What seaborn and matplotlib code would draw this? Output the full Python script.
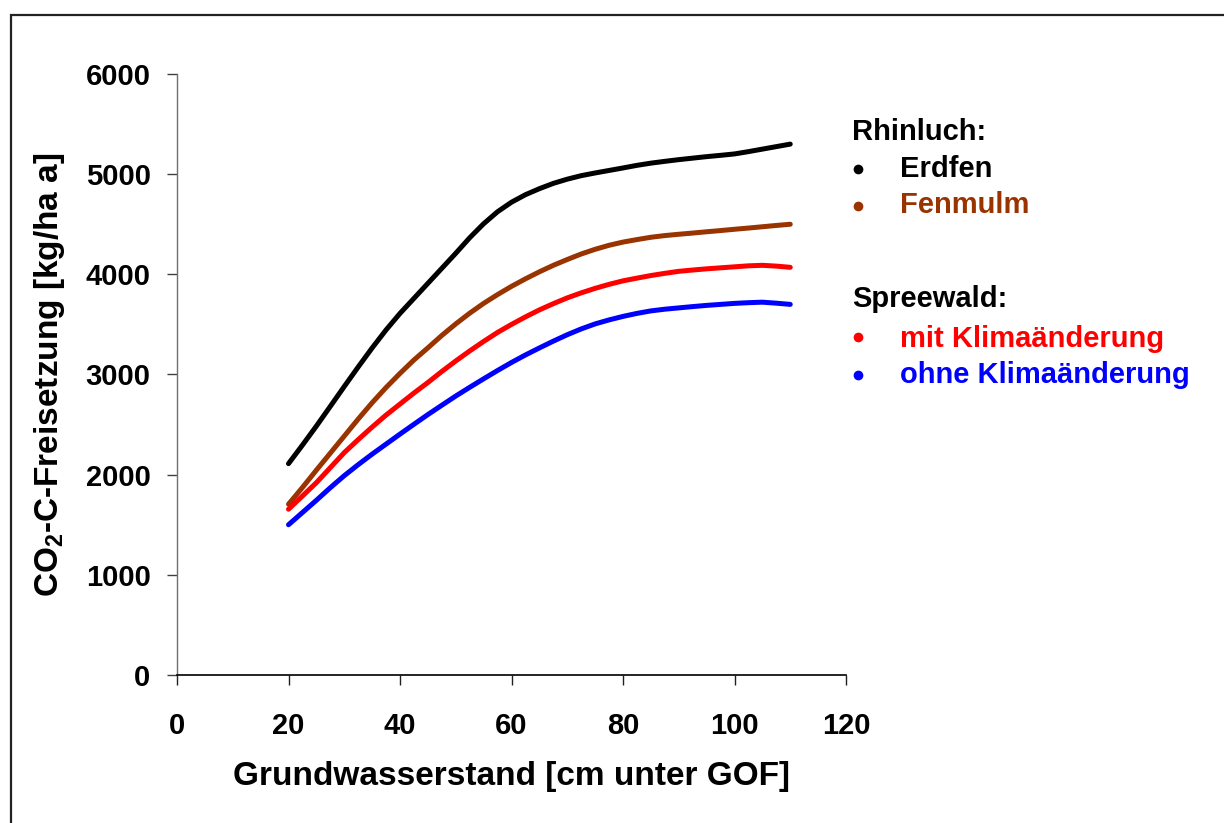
import numpy as np
import pandas as pd
import matplotlib
matplotlib.use("Agg")
import matplotlib.pyplot as plt
import matplotlib.patches as mpatches
from matplotlib.lines import Line2D
import seaborn as sns

# Grundwasserstand [cm unter GOF]
depth = [20, 22.5, 25, 27.5, 30, 32.5, 35, 37.5, 40, 42.5, 45, 47.5, 50, 52.5, 55, 57.5, 60,
         62.5, 65, 67.5, 70, 72.5, 75, 77.5, 80, 82.5, 85, 87.5, 90, 92.5, 95, 97.5, 100,
         102.5, 105, 107.5, 110]

# CO2-C-Freisetzung [kg/ha a]
erdfen = [2110, 2295, 2485, 2682, 2880, 3075, 3265, 3445, 3610, 3760, 3910, 4060, 4210, 4365,
          4505, 4625, 4720, 4795, 4855, 4908, 4950, 4985, 5012, 5037, 5062, 5088, 5110, 5128,
          5145, 5160, 5175, 5188, 5202, 5225, 5250, 5275, 5300]
fenmulm = [1705, 1872, 2045, 2215, 2385, 2555, 2718, 2870, 3011, 3145, 3266, 3390, 3505, 3612,
           3710, 3798, 3880, 3955, 4025, 4090, 4148, 4203, 4250, 4290, 4322, 4347, 4370, 4387,
           4400, 4412, 4425, 4437, 4450, 4462, 4475, 4488, 4500]
mit_klima = [1655, 1787, 1920, 2070, 2220, 2350, 2475, 2595, 2705, 2815, 2920, 3030, 3135, 3235,
             3330, 3420, 3500, 3575, 3645, 3707, 3765, 3815, 3860, 3900, 3935, 3962, 3988, 4010,
             4030, 4043, 4055, 4065, 4075, 4085, 4090, 4082, 4070]
ohne_klima = [1500, 1622, 1744, 1870, 1990, 2100, 2205, 2305, 2405, 2503, 2600, 2693, 2785, 2872,
              2957, 3040, 3120, 3195, 3265, 3333, 3397, 3455, 3505, 3545, 3580, 3610, 3635, 3652,
              3665, 3678, 3690, 3700, 3710, 3717, 3722, 3712, 3700]

series_names = ["Erdfen", "Fenmulm", "mit Klimaänderung", "ohne Klimaänderung"]
series_values = [erdfen, fenmulm, mit_klima, ohne_klima]
colors = ["#000000", "#993300", "#FF0000", "#0000FF"]

x_ticks = [0, 20, 40, 60, 80, 100, 120]
y_ticks = [0, 1000, 2000, 3000, 4000, 5000, 6000]

df = pd.concat(
    [pd.DataFrame({"depth": depth, "co2": vals, "serie": name})
     for name, vals in zip(series_names, series_values)],
    ignore_index=True,
)

sns.set_theme(style="white")
plt.rcParams["font.family"] = ["Liberation Sans", "DejaVu Sans"]
plt.rcParams["font.weight"] = "bold"
plt.rcParams["text.color"] = "black"
plt.rcParams["axes.labelcolor"] = "black"
plt.rcParams["xtick.color"] = "black"
plt.rcParams["ytick.color"] = "black"
plt.rcParams["mathtext.fontset"] = "custom"
plt.rcParams["mathtext.rm"] = "Liberation Sans:bold"
plt.rcParams["mathtext.it"] = "Liberation Sans:bold"
plt.rcParams["mathtext.bf"] = "Liberation Sans:bold"

fig = plt.figure(figsize=(12.24, 8.23), dpi=100)
ax = fig.add_axes([177 / 1224, 1 - 675 / 823, (846 - 177) / 1224, (675 - 74) / 823])

sns.lineplot(data=df, x="depth", y="co2", hue="serie", palette=dict(zip(series_names, colors)),
             linewidth=3.6, legend=False, ax=ax, solid_capstyle="round",
             solid_joinstyle="round")

ax.set_xlim(0, 120)
ax.set_ylim(0, 6000)
ax.set_xticks(x_ticks)
ax.set_yticks(y_ticks)
ax.set_xticklabels([str(t) for t in x_ticks], fontsize=21, fontweight="bold", color="black")
ax.set_yticklabels([str(t) for t in y_ticks], fontsize=21, fontweight="bold", color="black")

for side in ["top", "right"]:
    ax.spines[side].set_visible(False)
ax.spines["left"].set_color("#707070")
ax.spines["left"].set_linewidth(1.0)
ax.spines["bottom"].set_color("#000000")
ax.spines["bottom"].set_linewidth(1.2)

ax.tick_params(axis="y", direction="out", length=7, width=1.0, color="#404040", pad=12,
               left=True)
ax.tick_params(axis="x", direction="out", length=7, width=1.0, color="#202020", pad=20,
               bottom=True)

ax.set_xlabel("Grundwasserstand [cm unter GOF]", fontsize=24, fontweight="bold", color="black")
ax.set_ylabel("CO$_2$-C-Freisetzung [kg/ha a]", fontsize=24, fontweight="bold", color="black")
ax.xaxis.set_label_coords(0.5, (675 - 776) / 601)
ax.xaxis.label.set_va("center")
ax.yaxis.set_label_coords((49 - 177) / 669, 0.5)
ax.yaxis.label.set_va("center")

# Legend drawn as a text block with coloured bullets
def fx(px):
    return px / 1224

def fy(py):
    return 1 - py / 823

legend_font = dict(fontsize=21, fontweight="bold", va="baseline")
fig.text(fx(852), fy(140), "Rhinluch:", color="black", **legend_font)
fig.text(fx(852), fy(307), "Spreewald:", color="black", **legend_font)
entries = [(177, 169, 0), (213, 206, 1), (347, 337, 2), (383, 375, 3)]
for base, dot_y, idx in entries:
    fig.add_artist(Line2D([fx(857.5)], [fy(dot_y)], marker="o", markersize=7.0,
                          color=colors[idx], markeredgewidth=0, linestyle="none",
                          transform=fig.transFigure))
    fig.text(fx(900), fy(base), series_names[idx], color=colors[idx], **legend_font)

# Outer frame
frame = mpatches.Rectangle((fx(10.5), -0.05), 1.2, fy(14.5) + 0.05, transform=fig.transFigure,
                           fill=False, edgecolor="#222222", linewidth=1.6, clip_on=False)
fig.patches.append(frame)

fig.savefig("out.png", dpi=100)
